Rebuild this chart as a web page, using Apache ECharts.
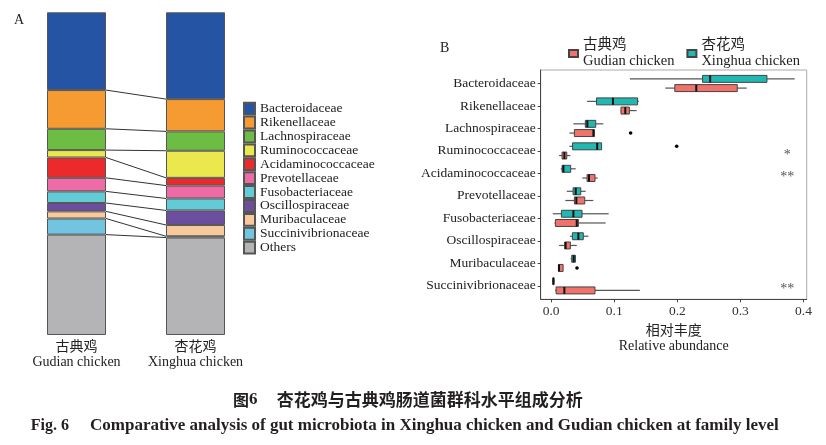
<!DOCTYPE html>
<html><head><meta charset="utf-8">
<script src="https://cdn.jsdelivr.net/npm/echarts@6/dist/echarts.min.js"></script>
<style>html,body{margin:0;padding:0;background:#fff}#c{width:826px;height:445px}</style>
</head><body><div id="c"></div>
<script>
// ---------- DATA ----------
const families = ['Bacteroidaceae','Rikenellaceae','Lachnospiraceae','Ruminococcaceae','Acidaminococcaceae','Prevotellaceae','Fusobacteriaceae','Oscillospiraceae','Muribaculaceae','Succinivibrionaceae','Others'];
const groupLabelsA = ['古典鸡\nGudian chicken', '杏花鸡\nXinghua chicken'];
const gudianPct  = [24.1, 12.0, 6.6, 2.3, 6.3, 4.2, 3.6, 2.6, 2.2, 5.0, 31.1];
const xinghuaPct = [26.9, 10.0, 6.0, 8.4, 2.4, 4.0, 3.7, 4.5, 3.5, 0.4, 30.2];
const familyColors = ['#2554A4','#F69B31','#6DBD45','#EBE84E','#EC2A2B','#EE6BA6','#63CBD6','#6C4E9E','#F9C99B','#72C5DF','#B4B4B6'];

const boxFamilies = ['Bacteroidaceae','Rikenellaceae','Lachnospiraceae','Ruminococcaceae','Acidaminococcaceae','Prevotellaceae','Fusobacteriaceae','Oscillospiraceae','Muribaculaceae','Succinivibrionaceae'];
const groupNamesB = ['古典鸡\nGudian chicken', '杏花鸡\nXinghua chicken'];
// [min, q1, median, q3, max]
const gudianBox = [
  [0.181, 0.196, 0.230, 0.295, 0.310],
  [0.110, 0.1107, 0.1175, 0.124, 0.1355],
  [0.029, 0.0369, 0.067, 0.0685, 0.0685],
  [0.0127, 0.0174, 0.021, 0.0248, 0.0305],
  [0.0495, 0.057, 0.060, 0.0695, 0.0738],
  [0.0226, 0.0369, 0.040, 0.0533, 0.0669],
  [0.0053, 0.0068, 0.0406, 0.0432, 0.0864],
  [0.0127, 0.0216, 0.023, 0.0305, 0.0406],
  [0.0116, 0.0116, 0.0125, 0.019, 0.019],
  [0.0063, 0.0079, 0.021, 0.0695, 0.1406]
];
const xinghuaBox = [
  [0.125, 0.240, 0.252, 0.342, 0.386],
  [0.057, 0.072, 0.098, 0.137, 0.139],
  [0.0353, 0.0542, 0.0574, 0.0707, 0.0827],
  [0.029, 0.034, 0.073, 0.080, 0.080],
  [0.0153, 0.0174, 0.0195, 0.031, 0.039],
  [0.0248, 0.0348, 0.039, 0.047, 0.0548],
  [0.0027, 0.0163, 0.0353, 0.049, 0.0912],
  [0.030, 0.0337, 0.0432, 0.051, 0.059],
  [0.031, 0.0327, 0.0358, 0.0385, 0.039],
  [0.002, 0.003, 0.0035, 0.004, 0.0055]
];
// [family index, value]
const gudianOutliers = [[2, 0.126], [8, 0.041]];
const xinghuaOutliers = [[3, 0.199]];
const significance = ['', '', '', '*', '**', '', '', '', '', '**'];
const xTicksB = [0, 0.1, 0.2, 0.3, 0.4];

// ---------- STYLE ----------
const SERIF = "'Liberation Serif','Noto Sans CJK SC',serif";
const RED = '#F0726A', TEAL = '#1FB8B2';
const BAR_W = 59;
const DODGE = 0.205, BOX_HALF = 0.155;
const SIG_X = 0.374;

const chart = echarts.init(document.getElementById('c'), null, {renderer: 'canvas'});

// Panel A series
const seriesA = families.map((f, i) => ({
  name: f, type: 'bar', stack: 'A', xAxisIndex: 0, yAxisIndex: 0,
  barWidth: BAR_W,
  itemStyle: {color: familyColors[i], borderColor: '#555', borderWidth: 1},
  emphasis: {disabled: true},
  data: [gudianPct[i], xinghuaPct[i]]
}));
// connector lines between bars
const connData = [];
let cl = 0, cr = 0;
for (let i = 0; i < families.length - 1; i++) {
  cl += gudianPct[i]; cr += xinghuaPct[i];
  connData.push([0, cl, cr]);
}
seriesA.push({
  type: 'custom', xAxisIndex: 0, yAxisIndex: 0, silent: true, z: 5,
  encode: {x: 0, y: 1},
  data: connData,
  renderItem: (params, api) => {
    const p1 = api.coord([0, api.value(1)]);
    const p2 = api.coord([1, api.value(2)]);
    return {type: 'line', shape: {x1: p1[0] + BAR_W/2, y1: p1[1], x2: p2[0] - BAR_W/2, y2: p2[1]},
      style: {stroke: '#333', lineWidth: 1}};
  }
});

function boxSeries(name, boxes, offset, fill) {
  return {
    name: name, type: 'custom', xAxisIndex: 1, yAxisIndex: 1, z: 3,
    itemStyle: {color: fill, borderColor: '#444', borderWidth: 1},
    encode: {x: [1,2,3,4,5], y: 0},
    data: boxes.map((b, i) => [i].concat(b)),
    renderItem: (params, api) => {
      const ci = api.value(0);
      const unit = Math.abs(api.size([0, 1])[1]);
      const yc = api.coord([0, ci])[1] + offset * unit;
      const hh = BOX_HALF * unit;
      const px = k => api.coord([api.value(k), ci])[0];
      const pMin = px(1), pQ1 = px(2), pMed = px(3), pQ3 = px(4), pMax = px(5);
      return {type: 'group', children: [
        {type: 'line', shape: {x1: pMin, y1: yc, x2: pQ1, y2: yc}, style: {stroke: '#555', lineWidth: 1.2}},
        {type: 'line', shape: {x1: pQ3, y1: yc, x2: pMax, y2: yc}, style: {stroke: '#555', lineWidth: 1.2}},
        {type: 'rect', shape: {x: pQ1, y: yc - hh, width: Math.max(pQ3 - pQ1, 1), height: 2*hh}, style: {fill: fill, stroke: '#444', lineWidth: 1}},
        {type: 'line', shape: {x1: pMed, y1: yc - hh, x2: pMed, y2: yc + hh}, style: {stroke: '#111', lineWidth: 2}}
      ]};
    }
  };
}
function outlierSeries(pts, offset) {
  return {
    type: 'custom', xAxisIndex: 1, yAxisIndex: 1, z: 4, silent: true,
    encode: {x: 1, y: 0},
    data: pts,
    renderItem: (params, api) => {
      const unit = Math.abs(api.size([0, 1])[1]);
      const p = api.coord([api.value(1), api.value(0)]);
      return {type: 'circle', shape: {cx: p[0], cy: p[1] + offset*unit, r: 1.8}, style: {fill: '#000'}};
    }
  };
}
const sigSeries = {
  type: 'custom', xAxisIndex: 1, yAxisIndex: 1, z: 4, silent: true,
  encode: {y: 0},
  data: significance.map((s, i) => ({value: [i], name: s})),
  renderItem: (params, api) => {
    const s = significance[params.dataIndex];
    if (!s) return null;
    const p = api.coord([SIG_X, api.value(0)]);
    return {type: 'text', x: p[0], y: p[1] + 4,
      style: {text: s, fontFamily: SERIF, fontSize: 14, fill: '#555', align: 'center', verticalAlign: 'middle'}};
  }
};

const option = {
  animation: false,
  backgroundColor: '#fff',
  grid: [
    {left: 17, top: 12.3, width: 238, height: 322.7},
    {left: 540.7, top: 70, right: 19.3, bottom: 145.7, show: true, borderColor: '#aaa', borderWidth: 1}
  ],
  xAxis: [
    {type: 'category', gridIndex: 0, data: groupLabelsA,
      axisLine: {show: false}, axisTick: {show: false},
      axisLabel: {interval: 0, margin: 5, fontFamily: SERIF, fontSize: 14, lineHeight: 15, color: '#222'}},
    {type: 'value', gridIndex: 1, min: -0.0165, max: 0.405,
      splitLine: {show: false},
      axisLine: {show: true, onZero: false, lineStyle: {color: '#444'}},
      axisTick: {show: true, length: 3, customValues: xTicksB, lineStyle: {color: '#444'}},
      axisLabel: {customValues: xTicksB, margin: 5, fontFamily: SERIF, fontSize: 13.5, color: '#333',
        formatter: v => v.toFixed(1)},
      name: '相对丰度\nRelative abundance', nameLocation: 'middle', nameGap: 25,
      nameTextStyle: {fontFamily: SERIF, fontSize: 14, lineHeight: 15, color: '#222'}}
  ],
  yAxis: [
    {type: 'value', gridIndex: 0, min: 0, max: 100, inverse: true, show: false},
    {type: 'value', gridIndex: 1, min: -0.6, max: 9.6, inverse: true,
      splitLine: {show: false},
      axisLine: {show: true, onZero: false, lineStyle: {color: '#444'}},
      axisTick: {show: true, length: 3, customValues: boxFamilies.map((f, i) => i), lineStyle: {color: '#444'}},
      axisLabel: {customValues: boxFamilies.map((f, i) => i), margin: 5, fontFamily: SERIF, fontSize: 13.5, color: '#222',
        formatter: v => boxFamilies[Math.round(v)]}}
  ],
  legend: [
    {data: families, orient: 'vertical', left: 243, top: 101.7, padding: 0,
      itemWidth: 11, itemHeight: 11.9, itemGap: 0, icon: 'rect', selectedMode: false,
      textStyle: {fontFamily: SERIF, fontSize: 13.5, lineHeight: 11.9, color: '#222'}},
    {data: groupNamesB, orient: 'horizontal', left: 568, top: 37.5, padding: 0,
      itemWidth: 9, itemHeight: 7, itemGap: 12, icon: 'rect', selectedMode: false,
      textStyle: {fontFamily: SERIF, fontSize: 14.5, lineHeight: 16, color: '#222'}}
  ],
  graphic: [
    {type: 'text', left: 14, top: 13, style: {text: 'A', fontFamily: SERIF, fontSize: 14, fill: '#222'}},
    {type: 'text', left: 440, top: 41, style: {text: 'B', fontFamily: SERIF, fontSize: 14, fill: '#222'}},
    {type: 'text', x: 233, y: 400, style: {text: '{a|图}{b|6}', verticalAlign: 'middle',
      rich: {a: {fontFamily: "'Noto Sans CJK SC'", fontWeight: 'bold', fontSize: 16, fill: '#231F20'},
             b: {fontFamily: SERIF, fontWeight: 'bold', fontSize: 17, fill: '#231F20'}}}},
    {type: 'text', x: 276.7, y: 400, style: {text: '杏花鸡与古典鸡肠道菌群科水平组成分析', verticalAlign: 'middle',
      fontFamily: "'Noto Sans CJK SC'", fontWeight: 'bold', fontSize: 17, fill: '#231F20'}},
    {type: 'text', x: 30.7, y: 426, style: {text: 'Fig. 6', verticalAlign: 'middle',
      fontFamily: SERIF, fontWeight: 'bold', fontSize: 16, fill: '#231F20'}},
    {type: 'text', x: 90, y: 426, style: {text: 'Comparative analysis of gut microbiota in Xinghua chicken and Gudian chicken at family level', verticalAlign: 'middle',
      fontFamily: SERIF, fontWeight: 'bold', fontSize: 17, fill: '#231F20'}}
  ],
  series: seriesA.concat([
    boxSeries(groupNamesB[0], gudianBox, DODGE, RED),
    boxSeries(groupNamesB[1], xinghuaBox, -DODGE, TEAL),
    outlierSeries(gudianOutliers, DODGE),
    outlierSeries(xinghuaOutliers, -DODGE),
    sigSeries
  ])
};
chart.setOption(option);
</script></body></html>
